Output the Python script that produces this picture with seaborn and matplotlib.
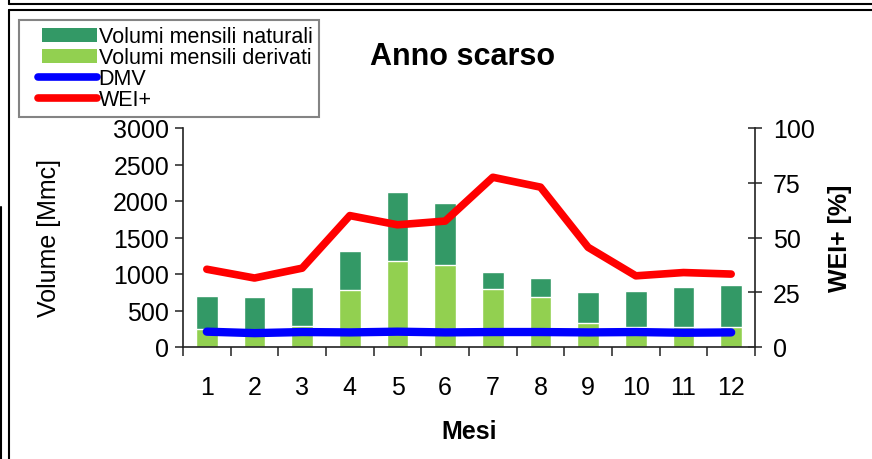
import numpy as np
import pandas as pd
import matplotlib.pyplot as plt
import seaborn as sns
from matplotlib.lines import Line2D
from matplotlib.patches import Patch, Rectangle
from matplotlib.legend_handler import HandlerPatch, HandlerLine2D
from matplotlib.ticker import FixedLocator

mesi = ["1", "2", "3", "4", "5", "6", "7", "8", "9", "10", "11", "12"]
naturali = [700, 685, 820, 1315, 2120, 1970, 1025, 945, 750, 765, 820, 850]
derivati = [250, 210, 290, 780, 1175, 1120, 795, 685, 330, 270, 270, 275]
dmv = [210, 190, 205, 200, 210, 200, 205, 205, 200, 205, 195, 200]
wei = [35.5, 31.5, 36, 60, 55.8, 57.5, 77.5, 73, 45.5, 32.5, 34, 33.3]

df = pd.DataFrame({"mese": mesi, "naturali": naturali, "derivati": derivati,
                   "dmv": dmv, "wei": wei, "pos": np.arange(len(mesi))})

sns.set_style("ticks")
plt.rcParams["font.family"] = ["Liberation Sans", "DejaVu Sans"]
plt.rcParams["text.color"] = "black"
plt.rcParams["axes.labelcolor"] = "black"
plt.rcParams["xtick.color"] = "black"
plt.rcParams["ytick.color"] = "black"

fig = plt.figure(figsize=(8.72, 4.6), dpi=100)
ax = fig.add_axes([183 / 872, 112 / 460, 572 / 872, 219 / 460])

# bars: derived volumes drawn in front of the natural ones
sns.barplot(data=df, x="mese", y="naturali", color="#339966", saturation=1,
            width=0.45, ax=ax)
sns.barplot(data=df, x="mese", y="derivati", color="#92D050", saturation=1,
            width=0.45, ax=ax)
sns.lineplot(data=df, x="pos", y="dmv", color="#0000FF", linewidth=6,
             solid_capstyle="round", ax=ax)

ax2 = ax.twinx()
sns.lineplot(data=df, x="pos", y="wei", color="#FF0000", linewidth=5.5,
             solid_capstyle="round", ax=ax2)

ax.set_xlim(-0.5, 11.5)
ax.set_ylim(0, 3000)
ax.set_yticks([0, 500, 1000, 1500, 2000, 2500, 3000])
ax2.set_ylim(0, 100)
ax2.set_yticks([0, 25, 50, 75, 100])

ax.set_xticks(range(12))
ax.set_xticklabels(mesi)
ax.xaxis.set_minor_locator(FixedLocator(np.arange(-0.5, 12, 1)))
ax.tick_params(axis="x", which="major", length=0, pad=20, labelsize=18)
ax.tick_params(axis="x", which="minor", length=6.5, width=1.2, color="#333333",
               direction="out")
ax.tick_params(axis="y", length=6, width=1.2, color="#333333", pad=4,
               labelsize=18, direction="out")
ax2.tick_params(axis="y", length=10, width=1.2, color="#333333", pad=8,
                labelsize=18, direction="inout")

for a in (ax, ax2):
    a.spines["top"].set_visible(False)
    for s in ("left", "right", "bottom"):
        a.spines[s].set_linewidth(1.2)
        a.spines[s].set_color("#222222")
ax.spines["right"].set_visible(False)
ax2.spines["left"].set_visible(False)
ax2.spines["bottom"].set_visible(False)

ax.set_xlabel("Mesi", fontsize=18, fontweight="bold")
ax.xaxis.set_label_coords(0.5, -0.33)
ax.set_ylabel("Volume [Mmc]", fontsize=18)
ax.yaxis.set_label_coords(-0.214, 0.5)
ax2.set_ylabel("WEI+ [%]", fontsize=18, fontweight="bold")
ax2.yaxis.set_label_coords(1.128, 0.5)

fig.text(463 / 872, 1 - 57 / 460, "Anno scarso", fontsize=22,
         fontweight="bold", ha="center", va="center")


# legend keys sit to the right of the key area, like the original
def narrow_patch(legend, orig_handle, xdescent, ydescent, width, height, fontsize):
    return Rectangle((-xdescent + 0.23 * width, -ydescent), 0.77 * width, height)


class ShiftedLine(HandlerLine2D):
    def get_xdata(self, legend, xdescent, ydescent, width, height, fontsize):
        x0 = -xdescent + 0.17 * width
        x1 = -xdescent + width
        return [x0, x1], [x0, x1]


handles = [Patch(facecolor="#339966", edgecolor="none"),
           Patch(facecolor="#92D050", edgecolor="none"),
           Line2D([], [], color="#0000FF", linewidth=5.5, solid_capstyle="round"),
           Line2D([], [], color="#FF0000", linewidth=5.5, solid_capstyle="round")]
labels = ["Volumi mensili naturali", "Volumi mensili derivati", "DMV", "WEI+"]
leg = fig.legend(handles, labels, loc="upper left",
                 bbox_to_anchor=(19 / 872, 1 - 21 / 460), fontsize=15.5,
                 frameon=True, fancybox=False, borderaxespad=0, borderpad=0.3,
                 labelspacing=0.0, handlelength=3.3, handleheight=0.6,
                 handletextpad=0.1,
                 handler_map={Patch: HandlerPatch(patch_func=narrow_patch),
                              Line2D: ShiftedLine()})
leg.get_frame().set_edgecolor("#666666")
leg.get_frame().set_linewidth(1.5)

# page frames around the chart
def fline(xs, ys, color="black", lw=1.5):
    fig.add_artist(Line2D([x / 872 for x in xs], [1 - y / 460 for y in ys],
                          transform=fig.transFigure, color=color, linewidth=lw))

fline([9, 9], [0, 4.5])
fline([9, 872], [4.5, 4.5])
fline([9, 872], [11, 11])
fline([9, 9], [11, 460])
fline([1, 1], [208, 460])

fig.savefig("out.png", dpi=100)
